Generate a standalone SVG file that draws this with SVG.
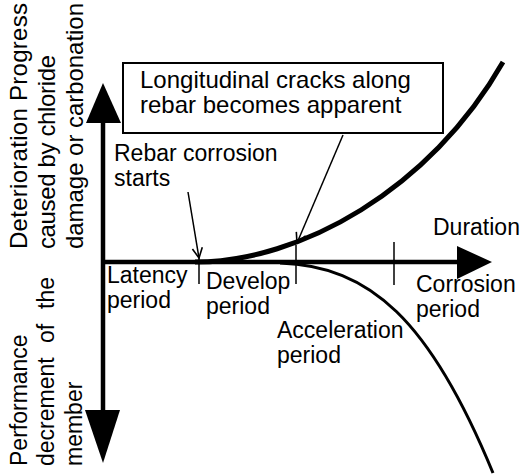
<svg xmlns="http://www.w3.org/2000/svg" width="522" height="474" viewBox="0 0 522 474">
  <style>
    text { font-family: "Liberation Sans", Arial, sans-serif; font-size: 23px; fill: #000; }
    .big { font-size: 24px; }
    .axis { stroke: #000; stroke-width: 4.5; fill: none; }
    .tick { stroke: #000; stroke-width: 1.5; fill: none; }
    .lead { stroke: #000; stroke-width: 1.5; fill: none; marker-end: url(#vee); }
  </style>
  <defs>
    <marker id="vee" viewBox="0 0 12 12" refX="11" refY="6" markerWidth="12" markerHeight="12" markerUnits="userSpaceOnUse" orient="auto">
      <path d="M1 1 L11 6 L1 11" fill="none" stroke="#000" stroke-width="1.6"/>
    </marker>
  </defs>
  <rect width="522" height="474" fill="#fff"/>

  <!-- axes -->
  <g id="axes">
    <line class="axis" x1="103" y1="118" x2="103" y2="415"/>
    <polygon points="103,83 86,123 121,123" fill="#000"/>
    <polygon points="103,463 85,410 120,410" fill="#000"/>
    <line class="axis" x1="103" y1="262" x2="460" y2="262"/>
    <polygon points="492,262 457,246 457,279" fill="#000"/>
  </g>

  <!-- period boundaries -->
  <g id="ticks">
    <line class="tick" x1="199" y1="256" x2="199" y2="284"/>
    <line class="tick" x1="296" y1="245" x2="296" y2="284"/>
    <line class="tick" x1="394" y1="242" x2="394" y2="285"/>
  </g>

  <!-- deterioration and performance curves -->
  <g id="curves">
    <path d="M195 262 C300 262 430 190 503 62" fill="none" stroke="#000" stroke-width="5"/>
    <path d="M280 263 C370 266 430 320 493 473" fill="none" stroke="#000" stroke-width="3"/>
  </g>

  <!-- callout box -->
  <g id="callout">
    <rect x="123" y="63" width="320" height="70" fill="#fff" stroke="#000" stroke-width="2"/>
    <text class="big" x="140" y="88">Longitudinal cracks along</text>
    <text class="big" x="140" y="113">rebar becomes apparent</text>
  </g>

  <g id="connectors">
    <line class="lead" x1="343" y1="135" x2="297" y2="243"/>
    <line class="lead" x1="188" y1="192" x2="199" y2="258"/>
  </g>

  <g id="corrosion-start">
    <text x="114" y="161">Rebar corrosion</text>
    <text x="114" y="186">starts</text>
  </g>

  <g id="duration"><text x="433" y="235">Duration</text></g>

  <g id="latency">
    <text x="107" y="283">Latency</text>
    <text x="107" y="308">period</text>
  </g>
  <g id="develop">
    <text x="206" y="289">Develop</text>
    <text x="206" y="314">period</text>
  </g>
  <g id="acceleration">
    <text x="277" y="338">Acceleration</text>
    <text x="277" y="363">period</text>
  </g>
  <g id="corrosion">
    <text x="416" y="292">Corrosion</text>
    <text x="416" y="317">period</text>
  </g>

  <!-- vertical axis titles -->
  <g id="deterioration-label">
    <text class="big" transform="translate(27 249) rotate(-90)" textLength="246">Deterioration Progress</text>
    <text class="big" transform="translate(55 249) rotate(-90)" textLength="194">caused by chloride</text>
    <text class="big" transform="translate(83 249) rotate(-90)" textLength="246">damage or carbonation</text>
  </g>
  <g id="performance-label">
    <text transform="translate(27 466) rotate(-90)">Performance</text>
    <text transform="translate(54 466) rotate(-90)">decrement</text>
    <text transform="translate(54 343) rotate(-90)">of</text>
    <text transform="translate(54 309) rotate(-90)">the</text>
    <text transform="translate(82 466) rotate(-90)">member</text>
  </g>
</svg>
